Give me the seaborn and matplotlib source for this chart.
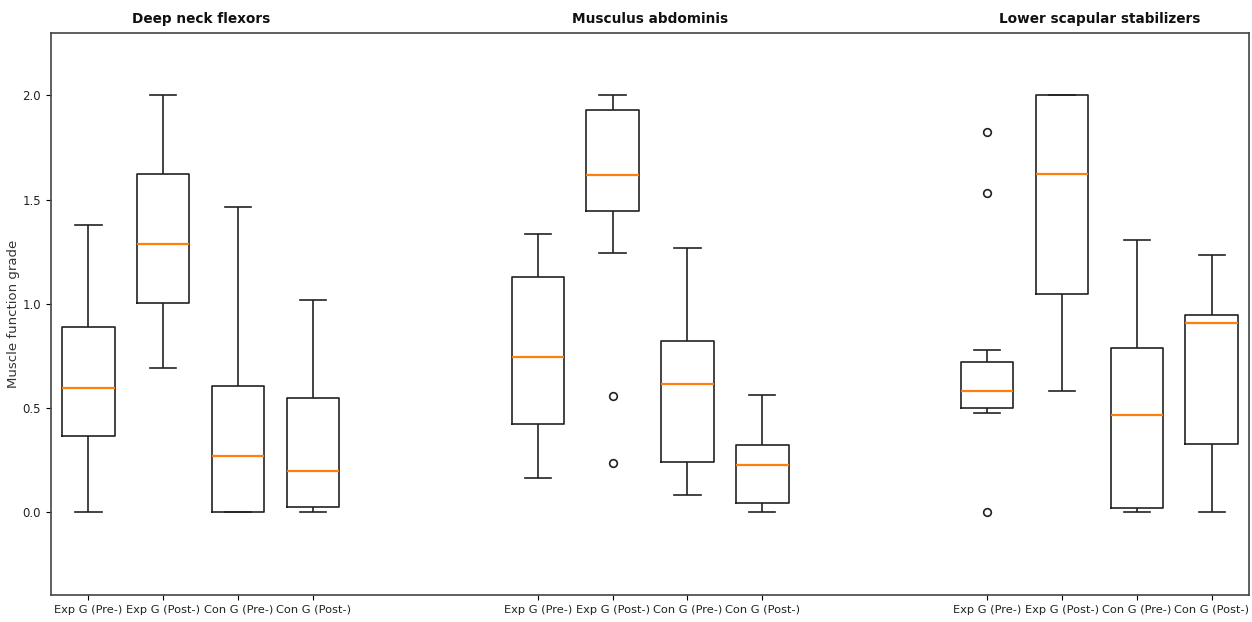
import numpy as np
import pandas as pd
import matplotlib
matplotlib.use("Agg")
import matplotlib.pyplot as plt
import matplotlib.transforms as mtransforms
import seaborn as sns

# ---- data (box summaries) ----
muscles = ["Deep neck flexors", "Musculus abdominis", "Lower scapular stabilizers"]
groups = ["Exp G (Pre-)", "Exp G (Post-)", "Con G (Pre-)", "Con G (Post-)"]
positions = [1, 2, 3, 4, 7, 8, 9, 10, 13, 14, 15, 16]

whisker_low = [0.00, 0.69, 0.00, 0.00,   0.161, 1.242, 0.082, 0.00,   0.473, 0.579, 0.00, 0.00]
q1_values   = [0.366, 1.001, 0.00, 0.024, 0.422, 1.447, 0.238, 0.042, 0.499, 1.044, 0.016, 0.325]
medians     = [0.596, 1.287, 0.27, 0.197, 0.743, 1.618, 0.612, 0.224, 0.580, 1.623, 0.464, 0.908]
q3_values   = [0.889, 1.623, 0.604, 0.545, 1.127, 1.931, 0.819, 0.323, 0.719, 2.00, 0.789, 0.943]
whisker_high = [1.377, 2.00, 1.464, 1.018, 1.333, 2.00, 1.268, 0.561, 0.775, 2.00, 1.306, 1.234]
outliers_low = [[], [], [], [], [], [0.235, 0.556], [], [], [0.00], [], [], []]
outliers_high = [[], [], [], [], [], [], [], [], [1.530, 1.823], [], [], []]


def sample_from_summary(lo, q1, med, q3, hi, olow, ohigh):
    """Build a sample whose linear-percentile box statistics equal the summary."""
    k, m = len(olow), len(ohigh)
    r = max(k, m) + 1
    vals = list(sorted(olow)) + [lo] + [q1] * (2 * r - 1 - k) + [med] * r \
        + [q3] * (r - m) + [hi] + list(sorted(ohigh))
    return vals


rows = []
for i, pos in enumerate(positions):
    vals = sample_from_summary(whisker_low[i], q1_values[i], medians[i], q3_values[i],
                               whisker_high[i], outliers_low[i], outliers_high[i])
    for v in vals:
        rows.append({"pos": pos, "value": v})
df = pd.DataFrame(rows)

# ---- plotting ----
plt.rcParams["font.family"] = ["DejaVu Sans"]
fig = plt.figure(figsize=(12.52, 6.22), dpi=100)
ax = fig.add_axes([0.0407, 0.0434, 0.957, 0.9035])

sns.boxplot(
    data=df, x="pos", y="value", native_scale=True, orient="x",
    fill=False, color="#222222", width=0.7, linewidth=1.2, whis=1.5,
    medianprops=dict(color="#ff7f0e", linewidth=1.6),
    flierprops=dict(marker="o", markerfacecolor="none", markeredgecolor="#222222",
                    markersize=5.5, markeredgewidth=1.2),
    ax=ax,
)

ax.set_xlim(0.5, 16.5)
ax.set_ylim(-0.4, 2.3)
ax.set_xticks(positions)
ax.set_xticklabels(groups * 3, fontsize=8.2, color="#222222")
ax.set_yticks([0.0, 0.5, 1.0, 1.5, 2.0])
ax.set_yticklabels(["0.0", "0.5", "1.0", "1.5", "2.0"], fontsize=8.5, color="#222222")
ax.set_xlabel("")
ax.set_ylabel("Muscle function grade", fontsize=9.5, color="#333333", labelpad=2)
for s in ax.spines.values():
    s.set_color("#444444")
    s.set_linewidth(1.2)
    s.set_visible(True)

trans = mtransforms.blended_transform_factory(ax.transData, ax.transAxes)
for g, name in enumerate(muscles):
    center = np.mean(positions[g * 4:(g + 1) * 4])
    ax.text(center, 1.012, name, transform=trans, ha="center", va="bottom",
            fontsize=9.8, fontweight="bold", color="#111111")

fig.savefig("out.png", dpi=100)
